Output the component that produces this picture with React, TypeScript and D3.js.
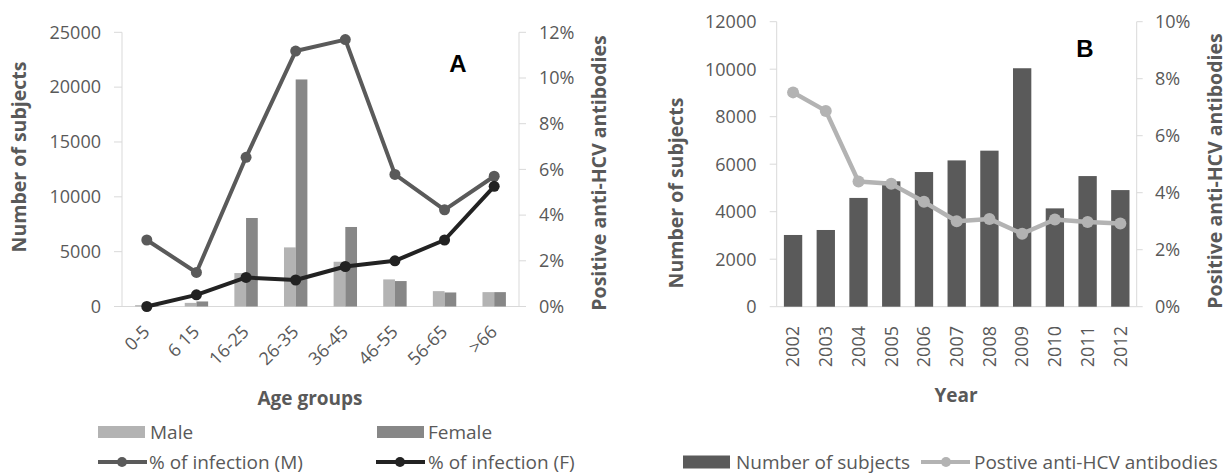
import React from "react";
import * as d3 from "d3";

// Panel A: subjects and anti-HCV positivity by age group and sex
const ageGroups = ["0-5", "6 15", "16-25", "26-35", "36-45", "46-55", "56-65", ">66"];
const maleSubjects = [120, 330, 3050, 5390, 4080, 2470, 1400, 1310];
const femaleSubjects = [60, 460, 8070, 20700, 7250, 2320, 1280, 1310];
const infectionMale = [0.0291, 0.0149, 0.0653, 0.1118, 0.1168, 0.0578, 0.0423, 0.057];
const infectionFemale = [0.0, 0.0051, 0.0127, 0.0116, 0.0175, 0.02, 0.0291, 0.0526];
const subjectTicksA = [0, 5000, 10000, 15000, 20000, 25000];
const percentTicksA = [0, 0.02, 0.04, 0.06, 0.08, 0.1, 0.12];

// Panel B: subjects and anti-HCV positivity by year
const years = ["2002", "2003", "2004", "2005", "2006", "2007", "2008", "2009", "2010", "2011", "2012"];
const subjectsByYear = [3020, 3230, 4580, 5280, 5670, 6160, 6570, 10040, 4140, 5500, 4910];
const positiveRate = [0.0752, 0.0687, 0.0439, 0.0431, 0.0368, 0.03, 0.0308, 0.0256, 0.0306, 0.0297, 0.0292];
const subjectTicksB = [0, 2000, 4000, 6000, 8000, 10000, 12000];
const percentTicksB = [0, 0.02, 0.04, 0.06, 0.08, 0.1];

const W = 1231;
const H = 475;
const FONT = "'Open Sans', 'Noto Sans', sans-serif";
const TEXT = "#595959";
const AXIS = "#d9d9d9";
const MALE = "#b3b3b3";
const FEMALE = "#878787";
const LINE_M = "#5a5a5a";
const LINE_F = "#222222";
const BAR_B = "#5a5a5a";
const LINE_B = "#b3b3b3";
const LEGEND_SIZE = 19;

const pct = d3.format(".0%");

function PanelA() {
  const left = 122;
  const right = 519;
  const top = 32.3;
  const bottom = 306.5;
  const x = d3.scaleBand<string>().domain(ageGroups).range([left, right]).paddingInner(0).paddingOuter(0);
  const sub = d3
    .scaleBand<string>()
    .domain(["male", "female"])
    .range([0, x.bandwidth()])
    .paddingInner(0)
    .paddingOuter(1.12);
  const yL = d3.scaleLinear().domain([0, 25000]).range([bottom, top]);
  const yR = d3.scaleLinear().domain([0, 0.12]).range([bottom, top]);
  const cx = (g: string) => (x(g) as number) + x.bandwidth() / 2;

  const line = (vals: number[]) =>
    d3
      .line<number>()
      .x((_, i) => cx(ageGroups[i]))
      .y((v) => yR(v))(vals) as string;

  return (
    <g fontFamily={FONT}>
      {/* axes lines */}
      <line x1={left} x2={left} y1={top} y2={bottom} stroke={AXIS} strokeWidth={1} />
      <line x1={right} x2={right} y1={top} y2={bottom} stroke={AXIS} strokeWidth={1} />
      <line x1={left} x2={right} y1={bottom} y2={bottom} stroke={AXIS} strokeWidth={1} />
      {subjectTicksA.map((t) => (
        <g key={"l" + t}>
          <line x1={left - 8} x2={left} y1={yL(t)} y2={yL(t)} stroke={AXIS} />
          <text x={101} y={yL(t)} dy="0.35em" textAnchor="end" fontSize={18} fill={TEXT}>
            {t}
          </text>
        </g>
      ))}
      {percentTicksA.map((t) => (
        <g key={"r" + t}>
          <line x1={right} x2={right + 7} y1={yR(t)} y2={yR(t)} stroke={AXIS} />
          <text x={539} y={yR(t)} dy="0.35em" textAnchor="start" fontSize={18} fill={TEXT}>
            {pct(t)}
          </text>
        </g>
      ))}
      {/* bars */}
      {ageGroups.map((g, i) => (
        <g key={g}>
          <rect
            x={(x(g) as number) + (sub("male") as number)}
            y={yL(maleSubjects[i])}
            width={sub.bandwidth()}
            height={bottom - yL(maleSubjects[i])}
            fill={MALE}
          />
          <rect
            x={(x(g) as number) + (sub("female") as number)}
            y={yL(femaleSubjects[i])}
            width={sub.bandwidth()}
            height={bottom - yL(femaleSubjects[i])}
            fill={FEMALE}
          />
        </g>
      ))}
      {/* infection lines */}
      <path d={line(infectionMale)} fill="none" stroke={LINE_M} strokeWidth={4} strokeLinejoin="round" />
      {infectionMale.map((v, i) => (
        <circle key={"m" + i} cx={cx(ageGroups[i])} cy={yR(v)} r={5.5} fill={LINE_M} />
      ))}
      <path d={line(infectionFemale)} fill="none" stroke={LINE_F} strokeWidth={4} strokeLinejoin="round" />
      {infectionFemale.map((v, i) => (
        <circle key={"f" + i} cx={cx(ageGroups[i])} cy={yR(v)} r={5.5} fill={LINE_F} />
      ))}
      {/* category labels */}
      {ageGroups.map((g) => (
        <text
          key={"t" + g}
          transform={`translate(${cx(g) + 4},${333}) rotate(-45)`}
          textAnchor="end"
          fontSize={18}
          fill={TEXT}
        >
          {g}
        </text>
      ))}
      {/* titles */}
      <text x={310} y={398} dy="0.35em" textAnchor="middle" fontSize={19} fontWeight="bold" fill={TEXT}>
        Age groups
      </text>
      <text
        transform={`translate(19,157) rotate(-90)`}
        dy="0.35em"
        textAnchor="middle"
        fontSize={19.5}
        fontWeight="bold"
        fill={TEXT}
      >
        Number of subjects
      </text>
      <text
        transform={`translate(599,173) rotate(-90)`}
        dy="0.35em"
        textAnchor="middle"
        fontSize={19.5}
        fontWeight="bold"
        fill={TEXT}
      >
        Positive anti-HCV antibodies
      </text>
      <text x={458} y={72} textAnchor="middle" fontSize={24} fontWeight="bold" fill="#000" fontFamily="'Liberation Sans', Arial, sans-serif">
        A
      </text>
      {/* legend */}
      <rect x={98} y={426} width={47} height={12} fill={MALE} />
      <text x={150} y={432} dy="0.35em" fontSize={LEGEND_SIZE} fill={TEXT}>
        Male
      </text>
      <rect x={377} y={426} width={47} height={12} fill={FEMALE} />
      <text x={428} y={432} dy="0.35em" fontSize={LEGEND_SIZE} fill={TEXT}>
        Female
      </text>
      <line x1={98} x2={147} y1={462} y2={462} stroke={LINE_M} strokeWidth={4} />
      <circle cx={122} cy={462} r={5} fill={LINE_M} />
      <text x={149} y={462} dy="0.35em" fontSize={LEGEND_SIZE} fill={TEXT}>
        % of infection (M)
      </text>
      <line x1={376} x2={425} y1={462} y2={462} stroke={LINE_F} strokeWidth={4} />
      <circle cx={400} cy={462} r={5} fill={LINE_F} />
      <text x={428} y={462} dy="0.35em" fontSize={LEGEND_SIZE} fill={TEXT}>
        % of infection (F)
      </text>
    </g>
  );
}

function PanelB() {
  const left = 776.7;
  const right = 1136.7;
  const top = 21.7;
  const bottom = 306.7;
  const x = d3.scaleBand<string>().domain(years).range([left, right]).paddingInner(0.44).paddingOuter(0.22);
  const yL = d3.scaleLinear().domain([0, 12000]).range([bottom, top]);
  const yR = d3.scaleLinear().domain([0, 0.1]).range([bottom, top]);
  const cx = (yr: string) => (x(yr) as number) + x.bandwidth() / 2;
  const path = d3
    .line<number>()
    .x((_, i) => cx(years[i]))
    .y((v) => yR(v))(positiveRate) as string;

  return (
    <g fontFamily={FONT}>
      <line x1={left} x2={left} y1={top} y2={bottom} stroke={AXIS} />
      <line x1={right} x2={right} y1={top} y2={bottom} stroke={AXIS} />
      <line x1={left} x2={right} y1={bottom} y2={bottom} stroke={AXIS} />
      {subjectTicksB.map((t) => (
        <g key={"l" + t}>
          <line x1={left - 7} x2={left} y1={yL(t)} y2={yL(t)} stroke={AXIS} />
          <text x={756.5} y={yL(t)} dy="0.35em" textAnchor="end" fontSize={18} fill={TEXT}>
            {t}
          </text>
        </g>
      ))}
      {percentTicksB.map((t) => (
        <g key={"r" + t}>
          <line x1={right} x2={right + 6} y1={yR(t)} y2={yR(t)} stroke={AXIS} />
          <text x={1155} y={yR(t)} dy="0.35em" textAnchor="start" fontSize={18} fill={TEXT}>
            {pct(t)}
          </text>
        </g>
      ))}
      {years.map((yr, i) => (
        <rect
          key={yr}
          x={x(yr) as number}
          y={yL(subjectsByYear[i])}
          width={x.bandwidth()}
          height={bottom - yL(subjectsByYear[i])}
          fill={BAR_B}
        />
      ))}
      <path d={path} fill="none" stroke={LINE_B} strokeWidth={4.5} strokeLinejoin="round" />
      {positiveRate.map((v, i) => (
        <circle key={"p" + i} cx={cx(years[i])} cy={yR(v)} r={6} fill={LINE_B} />
      ))}
      {years.map((yr) => (
        <text
          key={"t" + yr}
          transform={`translate(${cx(yr)},${326}) rotate(-90)`}
          dy="0.35em"
          textAnchor="end"
          fontSize={18}
          fill={TEXT}
        >
          {yr}
        </text>
      ))}
      <text x={956} y={395} dy="0.35em" textAnchor="middle" fontSize={19} fontWeight="bold" fill={TEXT}>
        Year
      </text>
      <text
        transform={`translate(676,193) rotate(-90)`}
        dy="0.35em"
        textAnchor="middle"
        fontSize={19.5}
        fontWeight="bold"
        fill={TEXT}
      >
        Number of subjects
      </text>
      <text
        transform={`translate(1215,171) rotate(-90)`}
        dy="0.35em"
        textAnchor="middle"
        fontSize={19.5}
        fontWeight="bold"
        fill={TEXT}
      >
        Positive anti-HCV antibodies
      </text>
      <text x={1085} y={57} textAnchor="middle" fontSize={24} fontWeight="bold" fill="#000" fontFamily="'Liberation Sans', Arial, sans-serif">
        B
      </text>
      {/* legend */}
      <rect x={683} y={455.5} width={47} height={13} fill={BAR_B} />
      <text x={736} y={462} dy="0.35em" fontSize={LEGEND_SIZE} fill={TEXT}>
        Number of subjects
      </text>
      <line x1={921} x2={970} y1={462} y2={462} stroke={LINE_B} strokeWidth={4} />
      <circle cx={946} cy={462} r={5} fill={LINE_B} />
      <text x={974} y={462} dy="0.35em" fontSize={LEGEND_SIZE} fill={TEXT}>
        Postive anti-HCV antibodies
      </text>
    </g>
  );
}

export default function App() {
  return (
    <svg
      width={W}
      height={H}
      viewBox={`0 0 ${W} ${H}`}
      style={{ position: "absolute", left: 0, top: 0, display: "block", background: "#fff" }}
    >
      <rect x={0} y={0} width={W} height={H} fill="#fff" />
      <PanelA />
      <PanelB />
    </svg>
  );
}
